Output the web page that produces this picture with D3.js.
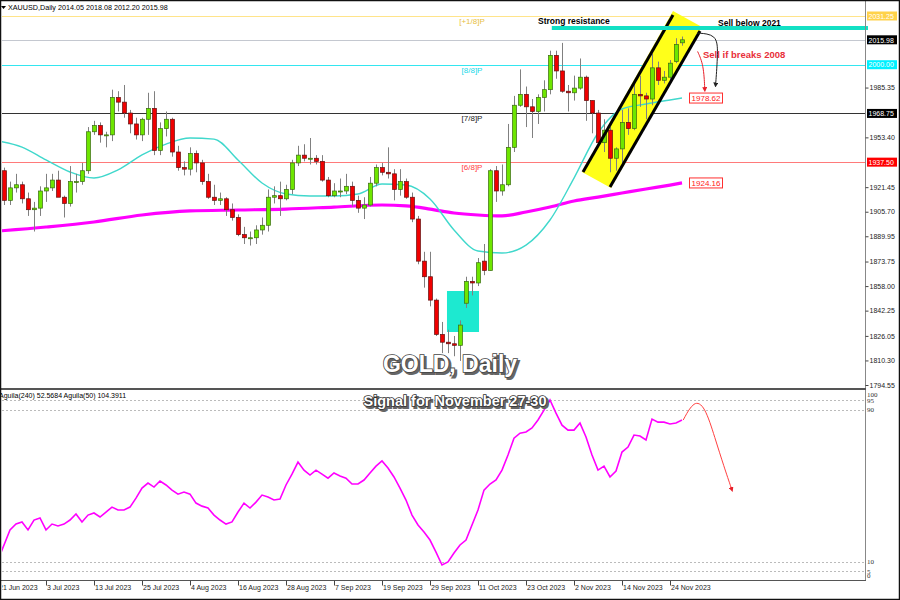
<!DOCTYPE html>
<html><head><meta charset="utf-8">
<script src="https://cdn.jsdelivr.net/npm/d3@7/dist/d3.min.js"></script>
<style>body{margin:0;background:#fff;overflow:hidden}svg{display:block}</style>
</head><body><svg id="c" width="900" height="600"></svg>
<script>
// ---------------- DATA ----------------
const symbolHeader = "XAUUSD,Daily  2014.05 2018.08 2012.20 2015.98";
const firstDay = "2023-06-21", lastDay = "2023-11-28";
const open  = [1936,1932,1913,1921,1923,1914,1907,1908,1919,1921,1926,1915,1911,1925,1925,1932,1957,1961,1955,1955,1979,1976,1969,1962,1955,1965,1972,1945,1959,1965,1944,1934,1933,1943,1937,1925,1915,1913,1914,1907,1902,1891,1889,1889,1894,1897,1915,1916,1914,1920,1937,1942,1940,1940,1938,1926,1916,1919,1919,1922,1913,1908,1910,1924,1934,1931,1930,1920,1925,1915,1901,1874,1864,1849,1827,1822,1821,1820,1847,1861,1860,1874,1868,1932,1919,1923,1947,1974,1981,1973,1970,1979,1984,2006,1996,1983,1982,1985,1992,1977,1969,1950,1958,1940,1946,1963,1959,1981,1980,1978,1998,1990,1992,2002,2014.05];
const high  = [1940,1934,1925,1930,1925,1918,1912,1922,1930,1930,1932,1916,1935,1930,1937,1960,1964,1963,1957,1984,1983,1987,1971,1966,1966,1982,1983,1963,1970,1966,1948,1938,1947,1945,1939,1930,1923,1918,1915,1911,1904,1896,1893,1897,1902,1920,1922,1925,1923,1939,1948,1949,1953,1942,1942,1928,1924,1927,1930,1925,1916,1915,1928,1936,1937,1947,1933,1933,1927,1918,1903,1880,1880,1850,1835,1830,1826,1836,1864,1864,1876,1885,1933,1935,1936,1962,1980,1997,1986,1978,1981,1990,2009,2009,2014,1987,1993,2004,1993,1977,1971,1965,1960,1947,1971,1972,1988,1993,1982,2007,2002,1996,2003,2017,2018.08];
const low   = [1923,1910,1910,1918,1911,1903,1893,1903,1912,1919,1916,1902,1909,1918,1923,1930,1955,1950,1947,1951,1970,1966,1956,1952,1951,1955,1942,1942,1954,1941,1932,1929,1929,1931,1923,1914,1910,1910,1903,1900,1890,1885,1884,1885,1891,1893,1911,1903,1913,1917,1935,1938,1936,1936,1925,1915,1915,1915,1917,1909,1905,1901,1909,1922,1929,1927,1913,1916,1914,1899,1872,1857,1845,1826,1815,1815,1813,1810,1844,1852,1858,1865,1868,1912,1916,1922,1944,1973,1960,1953,1962,1970,1981,1991,1982,1970,1977,1984,1964,1956,1947,1944,1931,1932,1936,1955,1958,1973,1965,1974,1987,1988,1990,2001,2012.20];
const close = [1932,1913,1921,1923,1914,1907,1908,1919,1921,1926,1915,1911,1925,1925,1932,1957,1961,1955,1955,1979,1976,1969,1962,1955,1965,1972,1945,1959,1965,1944,1934,1933,1943,1937,1925,1915,1913,1914,1907,1902,1891,1889,1889,1894,1897,1915,1916,1914,1920,1937,1942,1940,1940,1938,1926,1916,1919,1919,1922,1913,1908,1910,1924,1934,1931,1930,1920,1925,1915,1901,1874,1864,1849,1827,1822,1821,1820,1833,1861,1860,1873,1868,1932,1919,1923,1947,1974,1981,1973,1970,1979,1984,2006,1996,1983,1982,1985,1992,1977,1969,1950,1958,1940,1946,1963,1959,1981,1980,1978,1998,1990,1992,2001,2013,2015.98];
const maFastIdx = [0,4,8,12,16,20,24,28,32,36,40,44,48,52,56,60,64,68,72,76,80,84,88,92,96,100,104,108,112,114];
const maFastVal = [1951.1,1947.2,1938.9,1931.2,1927.3,1932.5,1942.1,1949.1,1953.0,1952.3,1938.9,1924.1,1917.1,1915.8,1915.8,1917.1,1923.5,1922.8,1913.9,1894.0,1880.5,1879.2,1884.3,1900.4,1927.3,1956.2,1971.6,1974.8,1977.4,1978.62];
const maSlowIdx = [0,8,16,24,32,40,48,56,64,68,72,76,80,84,88,92,96,100,104,108,112,114];
const maSlowVal = [1893.3,1895.9,1899.1,1903.6,1906.2,1906.8,1907.4,1908.7,1910.0,1909.4,1907.4,1904.9,1903.6,1903.0,1905.5,1908.7,1912.6,1915.1,1917.7,1920.3,1922.8,1924.16];
// Aguila oscillator, one value per bar
const aguila = [11.0,18.9,26.8,29.9,31.0,26.8,32.0,33.1,26.8,29.9,28.9,29.9,32.0,35.2,31.0,34.6,35.7,33.6,36.2,38.8,37.3,37.3,38.8,43.5,48.8,51.4,49.3,52.5,50.4,47.7,45.6,46.7,45.6,40.9,39.3,38.3,34.6,32.0,29.9,31.0,36.2,40.9,38.3,41.4,45.1,44.1,42.5,43.0,50.4,56.1,62.4,58.2,55.6,58.2,56.1,54.0,56.7,55.1,54.0,50.9,50.9,53.0,56.7,60.3,63.0,59.3,54.6,48.8,42.5,34.6,29.4,25.7,21.5,15.2,8.4,10.0,14.7,18.9,21.5,29.4,37.3,47.7,50.9,53.0,58.2,66.1,75.0,77.6,78.2,80.3,84.5,89.7,95.0,88.1,81.8,79.2,79.2,82.9,75.6,66.1,58.2,60.3,54.6,57.7,67.7,70.3,76.6,76.1,74.0,85.0,83.4,83.4,82.4,82.9,84.5];
const priceTicks = [1985.35,1953.40,1921.45,1905.70,1889.95,1873.75,1858.00,1842.25,1826.05,1810.30,1794.55];
const levelPrices = [2031.25,2015.98,2000.00,1968.75,1937.50];
const levelNames  = ["[+1/8]P","","[8/8]P","[7/8]P","[6/8]P"];
const aguilaLevels = [95,90,10,5];
const aguilaTickLabels = [100,95,90,10,5,0];
const resistancePrice = 2023.5;
const maFastLast = 1978.62, maSlowLast = 1924.16;

// ---------------- SETUP ----------------
const svg = d3.select("#c");
const FONT = "'Liberation Sans', Arial, sans-serif";
const days = d3.timeDay.range(new Date(firstDay+"T00:00"), d3.timeDay.offset(new Date(lastDay+"T00:00"),1))
  .filter(d => d.getDay() % 6 !== 0);
const bars = days.map((d,i)=>({d, i, o:open[i], h:high[i], l:low[i], c:close[i]}));

const PL = 2, PR = 865, MT = 2, MB = 388, IT = 391, IB = 580.5;
const x = d3.scaleLinear().domain([0, days.length-1]).range([-2, -2 + 6*(days.length-1)]);
const y = d3.scaleLinear().domain([1794.55, 2031.25]).range([385, 16]);
const yi = d3.scaleLinear().domain([0,100]).range([581, 390.5]);
const P = (g,p) => [x(g), y(p)];

svg.append("rect").attr("width",900).attr("height",600).attr("fill","#fff");

const defs = svg.append("defs");
defs.append("clipPath").attr("id","clipMain").append("rect").attr("x",PL).attr("y",MT).attr("width",PR-PL).attr("height",MB-MT);
defs.append("clipPath").attr("id","clipInd").append("rect").attr("x",PL).attr("y",IT).attr("width",PR-PL).attr("height",IB-IT);
defs.append("clipPath").attr("id","clipWide").append("rect").attr("x",PL).attr("y",MT).attr("width",898-PL).attr("height",MB-MT);
defs.append("clipPath").attr("id","clipX").append("rect").attr("x",2).attr("y",IB).attr("width",896).attr("height",18);
const mk = (id,color) => defs.append("marker").attr("id",id).attr("viewBox","0 0 10 10").attr("refX",5).attr("refY",5)
  .attr("markerWidth",5).attr("markerHeight",5).attr("orient","auto-start-reverse")
  .append("path").attr("d","M0,0 L10,5 L0,10 z").attr("fill",color);
mk("arrRed","#e8202a"); mk("arrBlack","#222");

const main = svg.append("g").attr("clip-path","url(#clipMain)");

// level lines
const levelColors = ["#ffe48a","#c4c8d0","#33e6f0","#333333","#ff7a7a"];
const levelText   = ["#e8c040","#000","#22d8e8","#222","#ff4040"];
levelPrices.forEach((p,k)=>{
  main.append("line").attr("x1",PL).attr("x2",PR).attr("y1",Math.round(y(p))+0.5).attr("y2",Math.round(y(p))+0.5)
    .attr("stroke",levelColors[k]).attr("stroke-width",1.2);
  if(levelNames[k]) main.append("text").attr("x",472).attr("y",y(p)+8).attr("text-anchor","middle")
    .attr("font-family",FONT).attr("font-size",8).attr("fill",levelText[k]).text(levelNames[k]);
});

// yellow channel
const chPoly = [[97.33,1931.17],[112.5,2034.45],[117.33,2024.19],[102.17,1920.91]];
main.append("path").attr("d", d3.line()(chPoly.map(a=>P(a[0],a[1])))+"Z").attr("fill","#ffff1a");

// cyan box
main.append("rect").attr("x",x(74.83)).attr("y",y(1854.85)).attr("width",x(80.17)-x(74.83)).attr("height",y(1828.55)-y(1854.85)).attr("fill","#1de9d0");

// MAs
const lineG = d3.line().curve(d3.curveMonotoneX);
main.append("path").attr("d", lineG(maSlowIdx.map((g,k)=>P(g,maSlowVal[k])))).attr("fill","none").attr("stroke","#ff00ff").attr("stroke-width",3.2);
main.append("path").attr("d", lineG(maFastIdx.map((g,k)=>P(g,maFastVal[k])))).attr("fill","none").attr("stroke","#40d8cc").attr("stroke-width",1.4);

// candles
const cg = main.append("g");
cg.selectAll("line.w").data(bars).join("line").attr("class","w")
  .attr("x1",d=>x(d.i)+0.5).attr("x2",d=>x(d.i)+0.5).attr("y1",d=>y(d.h)).attr("y2",d=>y(d.l))
  .attr("stroke","#808080").attr("stroke-width",1);
cg.selectAll("rect.b").data(bars).join("rect").attr("class","b")
  .attr("x",d=>x(d.i)-1.5).attr("width",4)
  .attr("y",d=>y(Math.max(d.o,d.c))).attr("height",d=>Math.max(1,Math.abs(y(d.o)-y(d.c))))
  .attr("fill",d=>d.c>=d.o?"#6ee600":"#f00000").attr("stroke",d=>d.c>=d.o?"#3a6a10":"#601010").attr("stroke-width",0.7);

// channel border lines
[[[97.5,1931.17],[112.5,2031.88]],[[102,1921.55],[117,2021.62]]].forEach(seg=>{
  main.append("line").attr("x1",x(seg[0][0])).attr("y1",y(seg[0][1])).attr("x2",x(seg[1][0])).attr("y2",y(seg[1][1]))
    .attr("stroke","#000").attr("stroke-width",3);
});

// resistance band
const wide = svg.append("g").attr("clip-path","url(#clipWide)");
wide.append("line").attr("x1",x(92.3)).attr("x2",PR+3).attr("y1",y(resistancePrice)).attr("y2",y(resistancePrice))
  .attr("stroke","#12e0c4").attr("stroke-width",4);

// texts in main
const txt = (g,tx,ty,s,opt={}) => g.append("text").attr("x",tx).attr("y",ty).attr("font-family",FONT)
  .attr("font-size",opt.size||8.5).attr("font-weight",opt.weight||"bold").attr("fill",opt.fill||"#000")
  .attr("text-anchor",opt.anchor||"start").text(s);
txt(svg,538,24,"Strong resistance");
txt(svg,718,26,"Sell below 2021");
txt(svg,703,58,"Sell if breaks 2008",{fill:"#e8303a",size:9.5});

// arrows
svg.append("path").attr("d", d3.line().curve(d3.curveBasis)([P(116.5,2020.3),P(119.8,2019.5),P(120,2008),P(119.6,1987)]))
  .attr("fill","none").attr("stroke","#222").attr("stroke-width",1).attr("marker-end","url(#arrBlack)");
svg.append("path").attr("d", d3.line().curve(d3.curveBasis)([P(116.6,2008.5),P(117.6,2000),P(117.8,1984)]))
  .attr("fill","none").attr("stroke","#e8202a").attr("stroke-width",1).attr("marker-end","url(#arrRed)");

// MA end labels
[[maFastLast],[maSlowLast]].forEach(([v])=>{
  const yy = y(v);
  svg.append("rect").attr("x",689.5).attr("y",yy-5).attr("width",33).attr("height",10).attr("fill","#fff").attr("stroke","#ff3030").attr("stroke-width",1);
  txt(svg,706,yy+3,v.toFixed(2),{fill:"#ff2020",weight:"normal",size:8,anchor:"middle"});
});

// big outlined captions
const big = (s,cx,cy,size,fill,edge)=>{
  svg.append("text").attr("x",cx+2).attr("y",cy+2).attr("text-anchor","middle").attr("font-family",FONT).attr("font-weight","bold")
    .attr("font-size",size).attr("fill","#666").attr("stroke","#666").attr("stroke-width",2).text(s);
  svg.append("text").attr("x",cx).attr("y",cy).attr("text-anchor","middle").attr("font-family",FONT).attr("font-weight","bold")
    .attr("font-size",size).attr("fill",fill).attr("stroke",edge).attr("stroke-width",1.6).attr("paint-order","stroke").text(s);
};
big("GOLD, Daily",450,372,23,"#fff","#444");

// header
svg.append("path").attr("d","M1,6 L6,6 L3.5,9 Z").attr("fill","#000");
txt(svg,8,10,symbolHeader,{weight:"normal",size:7.2});

// price axis
svg.append("line").attr("x1",PR+0.5).attr("x2",PR+0.5).attr("y1",0).attr("y2",IB).attr("stroke","#888").attr("stroke-width",1);
const ax = svg.append("g").attr("transform",`translate(${PR+0.5},0)`).call(d3.axisRight(y).tickValues(priceTicks).tickSize(3).tickFormat(d3.format(".2f")));
ax.select(".domain").remove();
ax.selectAll("text").attr("font-family",FONT).attr("font-size",7).attr("fill","#222").attr("x",4);
ax.selectAll("line").attr("stroke","#444");
const boxBg = ["#ffd24a","#000","#00f0ff","#000","#ff0000"];
levelPrices.forEach((p,k)=>{
  const yy = y(p);
  svg.append("rect").attr("x",867).attr("y",yy-4.5).attr("width",30).attr("height",9).attr("fill",boxBg[k]);
  txt(svg,868.5,yy+2.7,p.toFixed(2),{fill:"#fff",weight:"normal",size:7});
});

// separator
svg.append("rect").attr("x",0).attr("y",MB).attr("width",PR+1).attr("height",2).attr("fill","#555");

// ------- indicator -------
const ind = svg.append("g").attr("clip-path","url(#clipInd)");
aguilaLevels.forEach(v=>{
  ind.append("line").attr("x1",PL).attr("x2",PR).attr("y1",Math.round(yi(v))+0.5).attr("y2",Math.round(yi(v))+0.5)
    .attr("stroke","#bbb").attr("stroke-dasharray","2,2");
});
ind.append("path").attr("d", d3.line()(aguila.map((v,i)=>[x(i),yi(v)]))).attr("fill","none").attr("stroke","#ff00ff").attr("stroke-width",1.6);
svg.append("path").attr("d", d3.line().curve(d3.curveBasis)([[x(114.2),yi(84.5)],[x(116),yi(95)],[x(117.8),yi(92)],[x(119.5),yi(75)],[x(121),yi(60)],[x(122.3),yi(48)]]))
  .attr("fill","none").attr("stroke","#ff4040").attr("stroke-width",1).attr("marker-end","url(#arrRed)");
txt(svg,-1,398,"Aguila(240) 52.5684  Aguila(50) 104.3911",{weight:"normal",size:7});
big("Signal for November 27-30",455,406,14.5,"#fff","#333");
aguilaTickLabels.forEach(v=>{
  const yy = Math.max(394, Math.min(575, yi(v)));
  svg.append("text").attr("x",867).attr("y",yy+2.5).attr("font-family","'Liberation Serif', serif").attr("font-size",7).attr("fill","#333").text(v);
});

// x axis
svg.append("line").attr("x1",0).attr("x2",PR+1).attr("y1",IB).attr("y2",IB).attr("stroke","#555");
const xTicks = d3.range(0, days.length, 8);
const xa = svg.append("g").attr("clip-path","url(#clipX)").append("g").attr("transform",`translate(0,${IB})`)
  .call(d3.axisBottom(x).tickValues(xTicks).tickSize(5).tickFormat(i=>d3.timeFormat("%-d %b %Y")(days[i])));
xa.select(".domain").remove();
xa.selectAll("line").attr("stroke","#444");
xa.selectAll("text").attr("font-family",FONT).attr("font-size",7).attr("fill","#222").attr("text-anchor","start").attr("dx",0.5).attr("y",5);

// frame
svg.append("rect").attr("x",0.5).attr("y",0.5).attr("width",899).attr("height",599).attr("fill","none").attr("stroke","#111").attr("stroke-width",1.5);
</script></body></html>
